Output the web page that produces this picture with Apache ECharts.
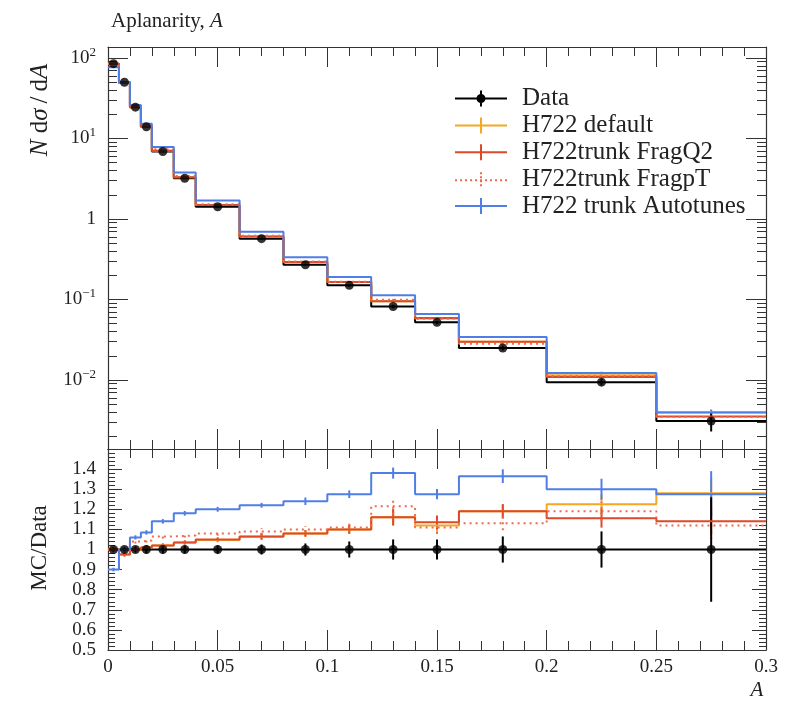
<!DOCTYPE html>
<html>
<head>
<meta charset="utf-8">
<script src="https://cdn.jsdelivr.net/npm/echarts@6/dist/echarts.min.js"></script>
<style>
  html, body { margin: 0; padding: 0; background: #fff; }
  #chart { width: 786px; height: 711px; }
</style>
</head>
<body>
<div id="chart"></div>
<script>
// bins of A
const binEdges = [0, 0.005, 0.01, 0.015, 0.02, 0.03, 0.04, 0.06, 0.08, 0.1, 0.12, 0.14, 0.16, 0.2, 0.25, 0.3]
const binCentres = [0.0025, 0.0075, 0.0125, 0.0175, 0.025, 0.035, 0.05, 0.07, 0.09, 0.11, 0.13, 0.15, 0.18, 0.225, 0.275]

// main panel, N dsigma/dA
const dataVals = [85, 50, 24.5, 14, 6.9, 3.2, 1.42, 0.57, 0.27, 0.15, 0.082, 0.052, 0.025, 0.0094, 0.0031]
const defaultVals = [85, 48.8, 24.5, 14.1, 7.04, 3.31, 1.49, 0.607, 0.292, 0.165, 0.095, 0.0582, 0.0298, 0.0115, 0.00397]
const fragQ2Vals = [85, 48.8, 24.5, 14.1, 7.04, 3.31, 1.49, 0.607, 0.292, 0.165, 0.095, 0.059, 0.0298, 0.0109, 0.00353]
const fragpTVals = [85, 49.5, 25.5, 14.6, 7.35, 3.42, 1.53, 0.621, 0.297, 0.1665, 0.0996, 0.0577, 0.0283, 0.0112, 0.00347]
const autotuneVals = [76.5, 50, 26, 15.2, 7.87, 3.78, 1.7, 0.695, 0.335, 0.191, 0.113, 0.0663, 0.0341, 0.0122, 0.00395]

// ratio panel, MC/Data
const dataRatio = [1, 1, 1, 1, 1, 1, 1, 1, 1, 1, 1, 1, 1, 1, 1]
const defaultRatio = [1.0, 0.975, 1.0, 1.01, 1.02, 1.035, 1.047, 1.064, 1.08, 1.1, 1.16, 1.12, 1.19, 1.225, 1.28]
const fragQ2Ratio = [1.0, 0.975, 1.0, 1.01, 1.02, 1.035, 1.05, 1.065, 1.08, 1.1, 1.16, 1.135, 1.19, 1.155, 1.14]
const fragpTRatio = [1.0, 0.99, 1.04, 1.045, 1.065, 1.07, 1.08, 1.09, 1.1, 1.11, 1.215, 1.11, 1.13, 1.19, 1.12]
const autotuneRatio = [0.9, 1.0, 1.06, 1.085, 1.14, 1.18, 1.2, 1.22, 1.24, 1.275, 1.38, 1.275, 1.365, 1.3, 1.275]

// relative uncertainties
const dataErr = [0.01, 0.01, 0.015, 0.02, 0.02, 0.02, 0.02, 0.025, 0.03, 0.04, 0.05, 0.05, 0.065, 0.09, 0.26]
const mcErr = [0.01, 0.01, 0.01, 0.01, 0.01, 0.01, 0.01, 0.015, 0.015, 0.02, 0.035, 0.03, 0.03, 0.04, 0.06]
const autotuneErr = [0.01, 0.01, 0.01, 0.01, 0.01, 0.01, 0.01, 0.01, 0.015, 0.015, 0.02, 0.02, 0.025, 0.04, 0.09]

const xTicks = [0, 0.05, 0.1, 0.15, 0.2, 0.25, 0.3]
const ratioTicks = [0.5, 0.6, 0.7, 0.8, 0.9, 1, 1.1, 1.2, 1.3, 1.4]

const names = ['Data', 'H722 default', 'H722trunk FragQ2', 'H722trunk FragpT', 'H722 trunk Autotunes']
const colors = ['#000000', '#f5a623', '#dc4a2a', '#ef6a4c', '#4f7fe6']

const FONT = 'Liberation Serif'
const AXIS = '#333'

function stepSeries(name, vals, color, dash, xi, yi) {
  return {
    name: name, type: 'line', step: 'end', xAxisIndex: xi, yAxisIndex: yi,
    data: binEdges.map((e, i) => [e, vals[Math.min(i, vals.length - 1)]]),
    symbol: 'none', silent: true,
    lineStyle: { color: color, width: 2, type: dash || 'solid' },
    itemStyle: { color: color }
  }
}

function errSeries(name, vals, errs, color, dash, xi, yi) {
  return {
    name: name, type: 'custom', xAxisIndex: xi, yAxisIndex: yi, silent: true,
    data: binCentres.map((x, i) => [x, vals[i] * (1 - errs[i]), vals[i] * (1 + errs[i])]),
    encode: { x: 0, y: [1, 2] },
    itemStyle: { color: color },
    renderItem: function (params, api) {
      const a = api.coord([api.value(0), api.value(1)])
      const b = api.coord([api.value(0), api.value(2)])
      return {
        type: 'line',
        shape: { x1: a[0], y1: a[1], x2: b[0], y2: b[1] },
        style: { stroke: color, lineWidth: 2, lineDash: dash || null }
      }
    }
  }
}

function dotSeries(vals, xi, yi) {
  return {
    name: 'Data', type: 'scatter', xAxisIndex: xi, yAxisIndex: yi, silent: true,
    data: binCentres.map((x, i) => [x, vals[i]]),
    symbol: 'circle', symbolSize: 9,
    itemStyle: { color: '#000' }, z: 5
  }
}

// legend icons 52x16
function dashedPath() {
  let p = 'path://'
  for (let x = 0; x < 52; x += 5) p += 'M' + x + ',7L' + (x + 2) + ',7L' + (x + 2) + ',9L' + x + ',9Z'
  for (let y = 0; y < 16; y += 4) p += 'M25,' + y + 'L27,' + y + 'L27,' + (y + 2) + 'L25,' + (y + 2) + 'Z'
  return p
}
const crossIcon = 'path://M0,7L52,7L52,9L0,9ZM25,0L27,0L27,16L25,16Z'
const dataIcon = 'path://M0,7L52,7L52,9L0,9ZM25,0L27,0L27,16L25,16ZM21.5,8A4.5,4.5,0,1,1,30.5,8A4.5,4.5,0,1,1,21.5,8Z'
const icons = [dataIcon, crossIcon, crossIcon, dashedPath(), crossIcon]

const mainVals = [dataVals, defaultVals, fragQ2Vals, fragpTVals, autotuneVals]
const ratioVals = [dataRatio, defaultRatio, fragQ2Ratio, fragpTRatio, autotuneRatio]
const errs = [dataErr, mcErr, mcErr, mcErr, autotuneErr]
const dashes = [null, null, null, [2, 4], null]

const series = []
for (let k = 0; k < 5; k++) series.push(stepSeries(names[k], mainVals[k], colors[k], dashes[k], 0, 0))
for (let k = 0; k < 5; k++) series.push(stepSeries(names[k], ratioVals[k], colors[k], dashes[k], 2, 2))
for (let k = 1; k < 5; k++) {
  series.push(errSeries(names[k], mainVals[k], errs[k], colors[k], dashes[k], 0, 0))
  series.push(errSeries(names[k], ratioVals[k], errs[k], colors[k], dashes[k], 2, 2))
}
series.push(errSeries('Data', dataVals, dataErr, '#000', null, 0, 0))
series.push(errSeries('Data', dataRatio, dataErr, '#000', null, 2, 2))
series.push(dotSeries(dataVals, 0, 0))
series.push(dotSeries(dataRatio, 2, 2))

function xAxis(grid, pos, labels) {
  return {
    type: 'value', gridIndex: grid, position: pos,
    min: xTicks[0], max: xTicks[xTicks.length - 1], interval: 0.05,
    axisLine: { show: true, onZero: false, lineStyle: { color: AXIS, width: 1.2 } },
    axisTick: { show: true, inside: true, length: 20, lineStyle: { color: AXIS } },
    minorTick: { show: true, splitNumber: 5, length: 9, lineStyle: { color: AXIS } },
    axisLabel: { show: labels, margin: 8, color: '#222', fontFamily: FONT, fontSize: 19 },
    splitLine: { show: false }, minorSplitLine: { show: false }
  }
}

function logAxis(pos, labels) {
  return {
    type: 'log', logBase: 10, gridIndex: 0, position: pos,
    min: 0.00139, max: 137,
    axisLine: { show: true, onZero: false, lineStyle: { color: AXIS, width: 1.2 } },
    axisTick: { show: true, inside: true, length: 20, lineStyle: { color: AXIS } },
    minorTick: { show: true, splitNumber: 9, length: 9, lineStyle: { color: AXIS } },
    splitLine: { show: false }, minorSplitLine: { show: false },
    axisLabel: {
      show: labels, margin: 12, color: '#222', fontFamily: FONT, fontSize: 19,
      showMinLabel: false, showMaxLabel: false,
      formatter: function (v) {
        const l = Math.log10(v)
        const p = Math.round(l)
        if (Math.abs(l - p) > 1e-6) return ''
        if (p === 0) return '1'
        return '10{s|' + (p < 0 ? '\u2212' + (-p) : p) + '}'
      },
      rich: { s: { fontSize: 13, fontFamily: FONT, color: '#222', verticalAlign: 'top', lineHeight: 24 } }
    }
  }
}

function ratioAxis(pos, labels) {
  return {
    type: 'value', gridIndex: 1, position: pos,
    min: 0.5, max: 1.5, interval: 0.1,
    axisLine: { show: true, onZero: false, lineStyle: { color: AXIS, width: 1.2 } },
    axisTick: { show: true, inside: true, length: 14, lineStyle: { color: AXIS } },
    minorTick: { show: true, splitNumber: 5, length: 7, lineStyle: { color: AXIS } },
    splitLine: { show: false }, minorSplitLine: { show: false },
    axisLabel: { show: labels, margin: 12, color: '#222', fontFamily: FONT, fontSize: 19, lineHeight: 18, showMaxLabel: false }
  }
}

const chart = echarts.init(document.getElementById('chart'), null, { renderer: 'canvas' })
chart.setOption({
  animation: false,
  backgroundColor: '#fff',
  title: {
    text: 'Aplanarity, {i|A}', left: 106, top: 6,
    textStyle: {
      fontFamily: FONT, fontSize: 21, fontWeight: 'normal', color: '#222',
      rich: { i: { fontFamily: FONT, fontSize: 21, fontStyle: 'italic', color: '#222' } }
    }
  },
  legend: {
    data: names.map((n, i) => ({ name: n, icon: icons[i] })),
    orient: 'vertical', left: 455, top: 86, padding: 0,
    itemWidth: 52, itemHeight: 16, itemGap: 1.9,
    selectedMode: false,
    itemStyle: { borderWidth: 0 },
    textStyle: { fontFamily: FONT, fontSize: 25, lineHeight: 16, color: '#222', padding: [0, 0, 0, 10] }
  },
  grid: [
    { left: 108, right: 20, top: 47, height: 402 },
    { left: 108, right: 20, top: 449, height: 201 }
  ],
  xAxis: [xAxis(0, 'bottom', false), xAxis(0, 'top', false), xAxis(1, 'bottom', true), xAxis(1, 'top', false)],
  yAxis: [logAxis('left', true), logAxis('right', false), ratioAxis('left', true), ratioAxis('right', false)],
  graphic: [
    {
      type: 'text', x: 40, y: 110, rotation: Math.PI / 2,
      style: {
        text: '{i|N} d{i|\u03c3}\u2009/\u2009d{i|A}', fontFamily: FONT, fontSize: 25, fill: '#222',
        align: 'center', verticalAlign: 'middle', textAlign: 'center', textVerticalAlign: 'middle',
        rich: { i: { fontFamily: FONT, fontSize: 25, fontStyle: 'italic', fill: '#222' } }
      }
    },
    {
      type: 'text', x: 40, y: 548, rotation: Math.PI / 2,
      style: {
        text: 'MC/Data', fontFamily: FONT, fontSize: 23, fill: '#222',
        align: 'center', verticalAlign: 'middle', textAlign: 'center', textVerticalAlign: 'middle'
      }
    },
    {
      type: 'text', x: 757, y: 690,
      style: {
        text: 'A', fontFamily: FONT, fontSize: 21, fontStyle: 'italic', fill: '#222',
        align: 'center', verticalAlign: 'middle', textAlign: 'center', textVerticalAlign: 'middle'
      }
    }
  ],
  series: series
})
</script>
</body>
</html>
